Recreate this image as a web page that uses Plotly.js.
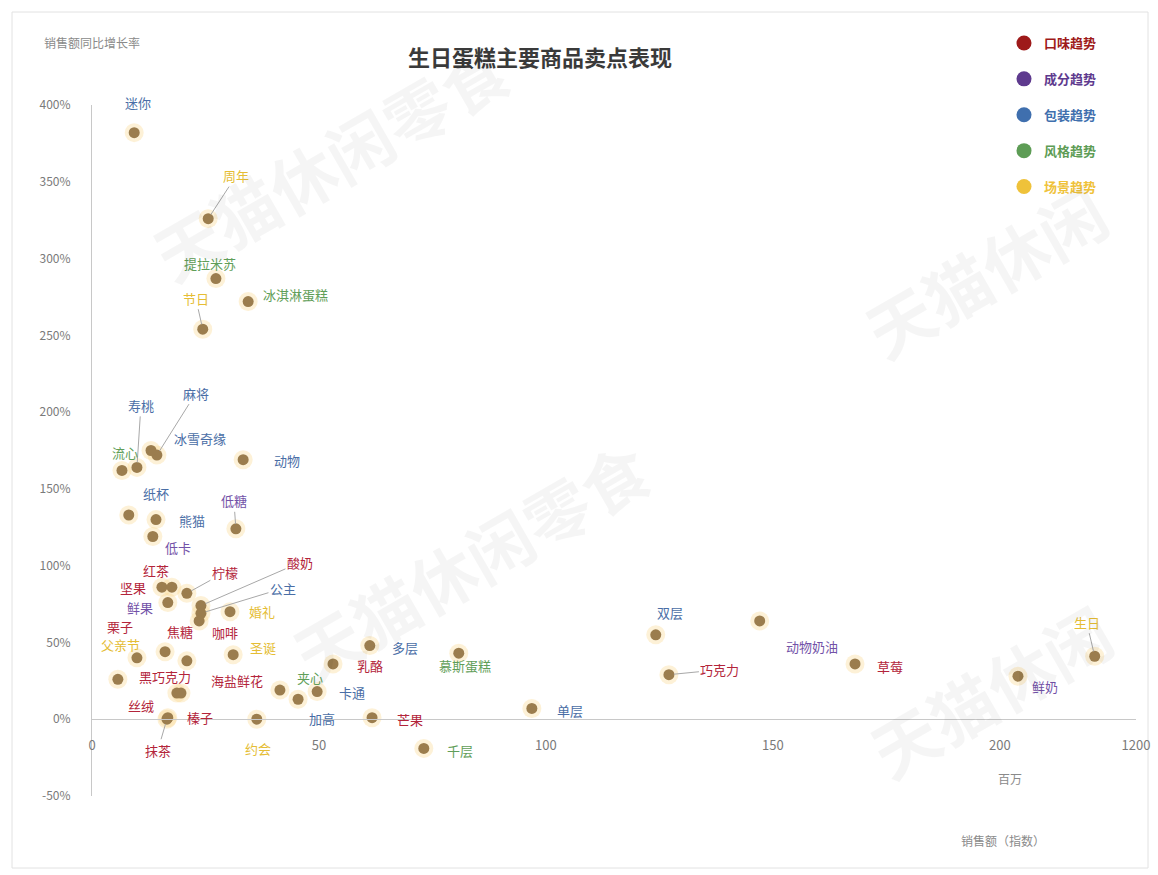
<!DOCTYPE html>
<html><head><meta charset="utf-8">
<script src="https://cdn.plot.ly/plotly-3.0.1.min.js"></script>
<style>html,body{margin:0;padding:0;background:#fff}#chart{width:1158px;height:875px}</style>
</head><body><div id="chart"></div>
<script>
// ---------- DATA ----------
const categoryNames = ['口味趋势','成分趋势','包装趋势','风格趋势','场景趋势'];
const itemNames = ['迷你','周年','提拉米苏','冰淇淋蛋糕','节日','寿桃','麻将','冰雪奇缘','流心','动物',
  '纸杯','熊猫','低糖','低卡','坚果','红茶','柠檬','鲜果','酸奶','公主',
  '焦糖','婚礼','栗子','父亲节','咖啡','圣诞','黑巧克力','丝绒','海盐鲜花','榛子',
  '抹茶','约会','夹心','加高','卡通','乳酪','多层','慕斯蛋糕','芒果','千层',
  '单层','双层','巧克力','动物奶油','草莓','鲜奶','生日'];
const salesIndex = [9.3,25.6,27.3,34.4,24.4,9.9,14.3,13.0,6.6,33.3,
  8.1,14.1,31.7,13.4,15.4,17.6,20.9,16.7,24.0,24.0,
  23.6,30.4,9.9,16.1,20.9,31.1,5.7,18.7,19.6,16.7,
  16.5,36.3,41.4,45.4,49.6,53.1,61.2,80.8,61.7,73.1,
  96.9,124.2,127.1,147.1,168.1,204.0,220.9];
const growthPct = [382,326,287,272,254,164,172,175,162,169,
  133,130,124,119,86,86,82,76,74,69,
  64,70,40,44,38,42,26,17,17,1,
  0,0,19,13,18,36,48,43,1,-19,
  7,55,29,64,36,28,41];
// 0 口味, 1 成分, 2 包装, 3 风格, 4 场景
const itemCategory = [2,4,3,3,4,2,2,2,3,2,
  2,2,1,1,0,0,0,1,0,2,
  0,4,0,4,0,4,0,0,0,0,
  0,4,3,2,2,0,2,3,0,3,
  2,2,0,1,0,1,4];
const xTickValues = [0,50,100,150,200,230];
const xTickLabels = ['0','50','100','150','200','1200'];
const yTickValues = [-50,0,50,100,150,200,250,300,350,400];
const yTickLabels = ['-50%','0%','50%','100%','150%','200%','250%','300%','350%','400%'];

// ---------- STYLE ----------
const legendColors = ['#9e1a1a','#5e3a8e','#3f6fae','#5d9c55','#efc23a'];
const labelColors  = ['#b3243a','#7352a8','#4a6ea6','#5f9e58','#e5bd35'];
const dotColor = '#9b7d4e';
const FONT = '"Noto Sans CJK SC", "Noto Sans", sans-serif';
// label offsets in pixels [dx, dy, leaderLine]
const labelPlacement = {
  '迷你':[4,-30,0],'周年':[28,-43,1],'提拉米苏':[-6,-15,0],'冰淇淋蛋糕':[47,-7,0],'节日':[-7,-31,1],
  '寿桃':[4,-62,1],'麻将':[39,-62,1],'冰雪奇缘':[49,-12,0],'流心':[3,-18,0],'动物':[44,1,0],
  '纸杯':[27,-21,0],'熊猫':[36,1,0],'低糖':[-2,-28,1],'低卡':[25,11,0],'坚果':[-29,0,0],
  '红茶':[-16,-17,0],'柠檬':[38,-21,1],'鲜果':[-28,5,0],'酸奶':[99,-43,1],'公主':[82,-25,1],
  '焦糖':[-19,11,0],'婚礼':[32,0,0],'栗子':[-17,-31,0],'父亲节':[-45,-7,0],'咖啡':[38,-28,0],
  '圣诞':[30,-7,0],'黑巧克力':[47,-3,0],'丝绒':[-36,12,0],'海盐鲜花':[56,-13,0],'榛子':[32,0,0],
  '抹茶':[-9,31,1],'约会':[1,29,0],'夹心':[30,-13,0],'加高':[24,19,0],'卡通':[35,1,0],
  '乳酪':[37,2,0],'多层':[35,2,0],'慕斯蛋糕':[6,12,0],'芒果':[38,2,0],'千层':[36,2,0],
  '单层':[38,2,0],'双层':[14,-22,0],'巧克力':[51,-5,1],'动物奶油':[52,26,0],'草莓':[35,3,0],
  '鲜奶':[27,10,0],'生日':[-8,-34,1]
};

const traces = [];
// glow halo
traces.push({type:'scatter',mode:'markers',x:salesIndex,y:growthPct,showlegend:false,hoverinfo:'skip',
  cliponaxis:false,marker:{size:19,color:'rgba(250,215,140,0.35)',line:{width:0}}});
// points
traces.push({type:'scatter',mode:'markers',x:salesIndex,y:growthPct,text:itemNames,showlegend:false,
  cliponaxis:false,hovertemplate:'%{text}<br>%{x}<br>%{y}%<extra></extra>',
  marker:{size:11,color:dotColor,line:{width:0}}});
// legend entries
categoryNames.forEach((n,i)=>{
  traces.push({type:'scatter',mode:'markers',x:[null],y:[null],legendgroup:'g'+i,
    name:'<b><span style="color:'+legendColors[i]+'">'+n+'</span></b>',
    marker:{size:15,color:legendColors[i]}});
});

const annotations = itemNames.map((n,i)=>{
  const p = labelPlacement[n] || [30,0,0];
  return {x:salesIndex[i],y:growthPct[i],xref:'x',yref:'y',text:n,showarrow:true,
    ax:p[0],ay:p[1],arrowhead:0,arrowwidth:1,standoff:5,
    arrowcolor:p[2]?'#a8a8a8':'rgba(0,0,0,0)',
    font:{family:FONT,size:13,color:labelColors[itemCategory[i]]}};
});
// watermarks
const px = v => (v-92)/1044, py = v => (796-v)/691;
[[330,160,'天猫休闲零食'],[470,560,'天猫休闲零食'],[985,270,'天猫休闲'],[990,690,'天猫休闲']].forEach(w=>{
  annotations.push({xref:'paper',yref:'paper',x:px(w[0]),y:py(w[1]),xanchor:'center',yanchor:'middle',
    text:'<b>'+w[2]+'</b>',showarrow:false,
    textangle:-30,font:{family:FONT,size:66,color:'rgba(0,0,0,0.04)'}});
});
annotations.push({xref:'paper',yref:'paper',x:px(92),y:py(42),text:'销售额同比增长率',showarrow:false,
  xanchor:'center',yanchor:'middle',font:{family:FONT,size:12,color:'#8a8a8a'}});
annotations.push({xref:'paper',yref:'paper',x:px(1010),y:py(778),text:'百万',showarrow:false,
  xanchor:'center',yanchor:'middle',font:{family:FONT,size:12,color:'#8a8a8a'}});
annotations.push({xref:'paper',yref:'paper',x:px(1003),y:py(840),text:'销售额（指数）',showarrow:false,
  xanchor:'center',yanchor:'middle',font:{family:FONT,size:12,color:'#8a8a8a'}});

const layout = {
  width:1158,height:875,paper_bgcolor:'#fff',plot_bgcolor:'rgba(0,0,0,0)',
  margin:{l:92,r:22,t:105,b:79,autoexpand:false},
  font:{family:FONT,color:'#777'},
  title:{text:'<b>生日蛋糕主要商品卖点表现</b>',font:{family:FONT,size:22,color:'#3a3a3a'},
    x:540/1158,xanchor:'center',y:1-58/875,yanchor:'middle',xref:'container',yref:'container'},
  xaxis:{range:[0,230],tickvals:xTickValues,ticktext:xTickLabels,anchor:'free',position:50/450,
    showgrid:false,zeroline:false,showline:true,linecolor:'#c8c8c8',linewidth:1,ticks:'',automargin:false,
    ticklabelstandoff:14,tickfont:{family:FONT,size:13,color:'#7a7a7a'}},
  yaxis:{range:[-50,400],tickvals:yTickValues,ticktext:yTickLabels,showgrid:false,zeroline:false,automargin:false,
    showline:true,linecolor:'#c8c8c8',linewidth:1,ticks:'',ticklabelstandoff:18,
    tickfont:{family:FONT,size:12,color:'#7a7a7a'}},
  legend:{xref:'container',yref:'container',x:1004/1158,y:1-28/875,xanchor:'left',yanchor:'top',
    traceorder:'grouped',tracegroupgap:16,bgcolor:'rgba(0,0,0,0)',font:{family:FONT,size:13},itemwidth:30},
  shapes:[{type:'rect',xref:'paper',yref:'paper',x0:px(12),x1:px(1148),y0:py(868),y1:py(12),
    line:{color:'#e2e2e2',width:1},layer:'below'}],
  annotations:annotations,
  hovermode:'closest'
};
Plotly.newPlot('chart',traces,layout,{displayModeBar:false,responsive:false});
</script></body></html>
